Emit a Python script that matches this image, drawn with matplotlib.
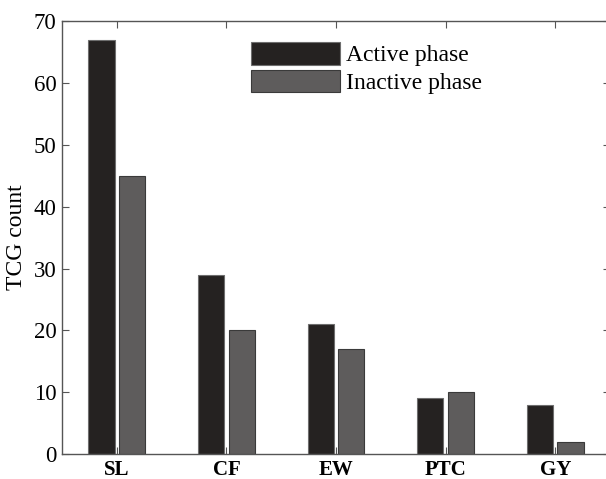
import numpy as np
import matplotlib
matplotlib.use('Agg')
import matplotlib.pyplot as plt

# data
categories = ['SL', 'CF', 'EW', 'PTC', 'GY']
active = [67, 29, 21, 9, 8]
inactive = [45, 20, 17, 10, 2]
series_names = ['Active phase', 'Inactive phase']

plt.rcParams['font.family'] = ['Liberation Serif', 'DejaVu Serif']

fig = plt.figure(figsize=(6.06, 4.79), dpi=100)
ax = fig.add_axes([0.1023, 0.052, 0.9043, 0.904])

x = np.arange(1, len(categories) + 1)
width = 0.24
offset = 0.14
ax.bar(x - offset, active, width=width, color='#252221', edgecolor='#6e6e6e',
       linewidth=0.8, label=series_names[0])
ax.bar(x + offset, inactive, width=width, color='#5e5c5c', edgecolor='#3a3a3a',
       linewidth=0.8, label=series_names[1])

ax.set_xlim(0.5, 5.5)
ax.set_ylim(0, 70)
ax.set_yticks(range(0, 71, 10))
ax.set_xticks(x)
ax.set_xticklabels(categories, fontweight='bold', fontsize=15)
ax.tick_params(axis='y', labelsize=16.5)
ax.tick_params(direction='in', top=True, right=True, length=5, color='#555555',
               pad=4)
ax.set_ylabel('TCG count', fontsize=17, labelpad=5)
for sp in ax.spines.values():
    sp.set_color('#555555')
    sp.set_linewidth(1.0)

leg = ax.legend(loc='upper left', bbox_to_anchor=(0.345, 0.952), frameon=False,
                fontsize=17, handlelength=3.75, handleheight=1.1,
                handletextpad=0.25, labelspacing=0.15, borderaxespad=0,
                borderpad=0)

fig.savefig('out.png', dpi=100)
